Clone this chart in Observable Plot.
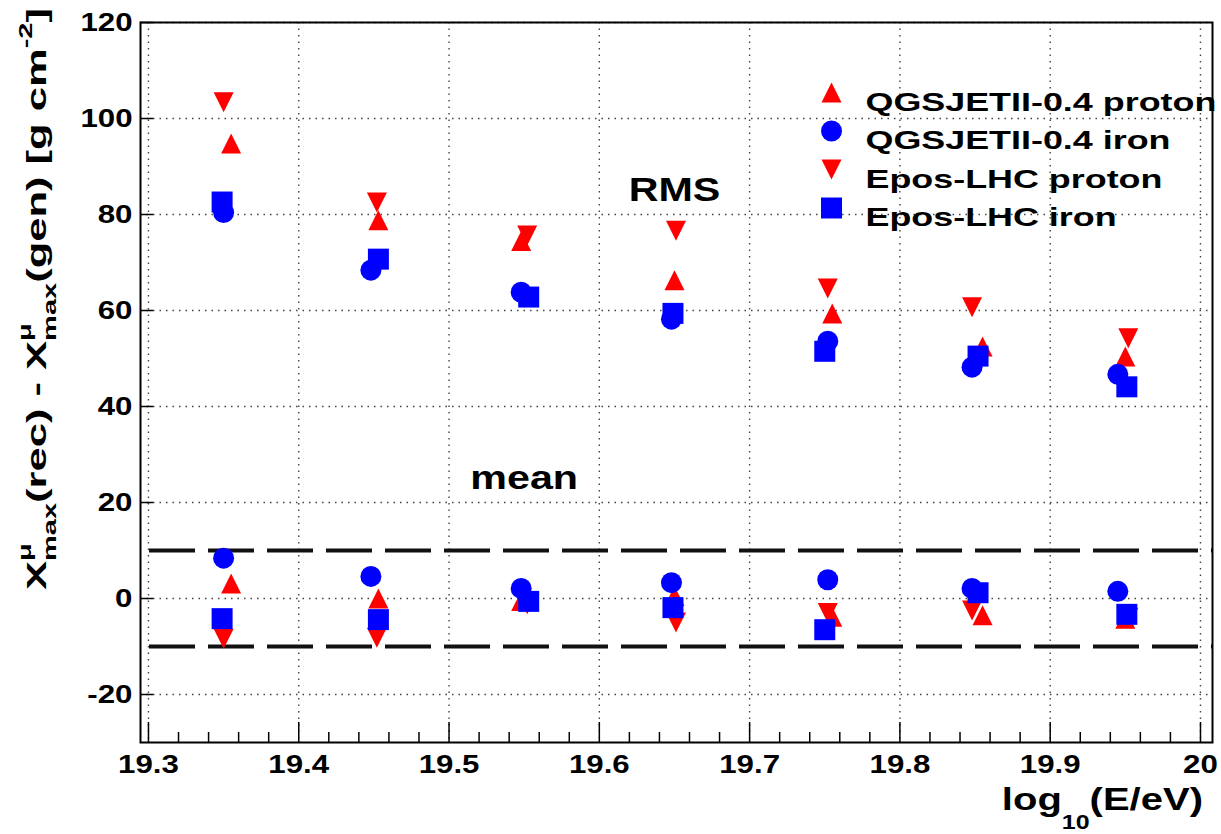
<!DOCTYPE html>
<html>
<head>
<meta charset="utf-8">
<script src="https://cdn.jsdelivr.net/npm/d3@7"></script>
<script src="https://cdn.jsdelivr.net/npm/@observablehq/plot@0.6"></script>
<style>
  html, body { margin: 0; padding: 0; background: #fff; }
  #chart svg { display: block; }
</style>
</head>
<body>
<div id="chart"></div>
<script>
// Energy bins (log10(E/eV)) per simulation set; each set is drawn slightly offset
const qgsProtonX  = [19.355, 19.453, 19.548, 19.650, 19.755, 19.855, 19.950];
const qgsIronX    = [19.350, 19.448, 19.548, 19.648, 19.752, 19.848, 19.945];
const eposProtonX = [19.350, 19.452, 19.552, 19.651, 19.752, 19.848, 19.952];
const eposIronX   = [19.349, 19.453, 19.553, 19.649, 19.750, 19.852, 19.951];

// RMS of Xmax^mu(rec) - Xmax^mu(gen) [g cm^-2]
const qgsProtonRms  = [94.8, 78.8, 74.5, 66.3, 59.4, 52.5, 50.4];
const qgsIronRms    = [80.4, 68.4, 63.8, 58.2, 53.6, 48.2, 46.7];
const eposProtonRms = [103.4, 82.5, 75.6, 76.6, 64.6, 60.7, 54.2];
const eposIronRms   = [82.6, 70.7, 62.8, 59.4, 51.5, 50.5, 44.1];

// Mean of Xmax^mu(rec) - Xmax^mu(gen) [g cm^-2]
const qgsProtonMean  = [3.1, 0.0, -0.5, 0.5, -3.8, -3.5, -4.2];
const qgsIronMean    = [8.4, 4.6, 2.1, 3.3, 3.9, 2.1, 1.5];
const eposProtonMean = [-8.4, -8.2, -1.2, -5.0, -3.0, -2.5, -4.0];
const eposIronMean   = [-4.2, -4.4, -0.6, -1.9, -6.5, 1.2, -3.3];

// Axis ticks and labels
const xMajorTicks = [19.3, 19.4, 19.5, 19.6, 19.7, 19.8, 19.9, 20];
const xTickLabels = ["19.3", "19.4", "19.5", "19.6", "19.7", "19.8", "19.9", "20"];
const yTicks = [-20, 0, 20, 40, 60, 80, 100, 120];
const yTickLabels = ["-20", "0", "20", "40", "60", "80", "100", "120"];
const meanBand = [-10, 10];

const annotations = [
  {label: "RMS", x: 19.65, y: 85},
  {label: "mean", x: 19.55, y: 25}
];

const FONT = "'Liberation Sans', Arial, Helvetica, sans-serif";
const RED = "#ff0000";
const BLUE = "#0000ff";
const TEXT_STRETCH = 1.25;
const LEGEND_STRETCH = 1.38;

// Marker shapes with the centre of the bounding box on the data point
const triangleUp = {
  draw(ctx, size) {
    const r = Math.sqrt(size / Math.PI);
    ctx.moveTo(0, -r);
    ctx.lineTo(r, r);
    ctx.lineTo(-r, r);
    ctx.closePath();
  }
};
const triangleDown = {
  draw(ctx, size) {
    const r = Math.sqrt(size / Math.PI);
    ctx.moveTo(0, r);
    ctx.lineTo(r, -r);
    ctx.lineTo(-r, -r);
    ctx.closePath();
  }
};
const squareBox = {
  draw(ctx, size) {
    const r = Math.sqrt(size / Math.PI);
    ctx.rect(-r, -r, 2 * r, 2 * r);
  }
};

const series = {
  qgsProton:  {label: "QGSJETII-0.4 proton", x: qgsProtonX,  rms: qgsProtonRms,  mean: qgsProtonMean,  symbol: triangleUp,   r: 10,   fill: RED},
  qgsIron:    {label: "QGSJETII-0.4 iron",   x: qgsIronX,    rms: qgsIronRms,    mean: qgsIronMean,    symbol: "circle",     r: 10.5, fill: BLUE},
  eposProton: {label: "Epos-LHC proton",     x: eposProtonX, rms: eposProtonRms, mean: eposProtonMean, symbol: triangleDown, r: 10,   fill: RED},
  eposIron:   {label: "Epos-LHC iron",       x: eposIronX,   rms: eposIronRms,   mean: eposIronMean,   symbol: squareBox,    r: 10.5, fill: BLUE}
};
const drawOrder = ["qgsProton", "eposProton", "eposIron", "qgsIron"];
const legendOrder = ["qgsProton", "qgsIron", "eposProton", "eposIron"];

function rows(s) {
  return s.x.flatMap((x, i) => [
    {x, y: s.rms[i], stat: "RMS"},
    {x, y: s.mean[i], stat: "mean"}
  ]);
}

const xMinorTicks = d3.range(0, 36)
  .map(i => Math.round((19.3 + i * 0.02) * 100) / 100)
  .filter(v => !xMajorTicks.some(t => Math.abs(t - v) < 1e-9));

const dataMarks = drawOrder.map(key => {
  const s = series[key];
  return Plot.dot(rows(s), {x: "x", y: "y", symbol: s.symbol, r: s.r, fill: s.fill, stroke: "none"});
});

const legendMarks = legendOrder.flatMap((key, i) => {
  const s = series[key];
  const dy = 70 + i * 38.5;
  return [
    Plot.dot([s.label], {frameAnchor: "top-right", dx: -381, dy, symbol: s.symbol, r: s.r, fill: s.fill, stroke: "none"}),
    Plot.text([s.label], {text: d => d, frameAnchor: "top-right", dx: -347, dy, textAnchor: "start",
      fontSize: 26, fontWeight: "bold", fill: "#000", className: "legend-label"})
  ];
});

const chart = Plot.plot({
  width: 1221,
  height: 834,
  marginLeft: 140,
  marginRight: 9,
  marginTop: 22,
  marginBottom: 92,
  style: {fontFamily: FONT, background: "#fff", color: "#000"},
  x: {domain: [19.2947, 20.008]},
  y: {domain: [-30, 120]},
  marks: [
    Plot.gridX({ticks: xMajorTicks, stroke: "#444", strokeOpacity: 1, strokeWidth: 1.4, strokeDasharray: "1.5,5"}),
    Plot.gridY({ticks: yTicks, stroke: "#444", strokeOpacity: 1, strokeWidth: 1.4, strokeDasharray: "1.5,5"}),
    Plot.ruleY(meanBand, {stroke: "#111", strokeWidth: 4, strokeDasharray: "46,13", strokeDashoffset: 50}),
    Plot.ruleX(xMajorTicks, {insetTop: 700, stroke: "#000", strokeWidth: 1.5}),
    Plot.ruleX(xMinorTicks, {insetTop: 710, stroke: "#000", strokeWidth: 1.5}),
    Plot.ruleY(yTicks, {insetRight: 1059, stroke: "#000", strokeWidth: 1.5}),
    ...dataMarks,
    Plot.text(annotations, {x: "x", y: "y", text: "label", fontSize: 33, fontWeight: "bold", fill: "#000"}),
    ...legendMarks,
    Plot.axisX({ticks: xMajorTicks, tickSize: 0, tickPadding: 13,
      tickFormat: d => xTickLabels[xMajorTicks.findIndex(t => Math.abs(t - d) < 1e-9)],
      fontSize: 25, fontWeight: "bold", label: null}),
    Plot.axisY({ticks: yTicks, tickSize: 0, tickPadding: 8,
      tickFormat: d => yTickLabels[yTicks.indexOf(d)],
      fontSize: 25, fontWeight: "bold", label: null}),
    Plot.frame({stroke: "#000", strokeWidth: 2})
  ]
});

document.getElementById("chart").appendChild(chart);

// Wide bold lettering: stretch every label along its writing direction
chart.querySelectorAll("text").forEach(t => {
  const isLegend = t.closest(".legend-label") !== null;
  const k = isLegend ? LEGEND_STRETCH : TEXT_STRETCH;
  const tr = t.getAttribute("transform") || "";
  t.setAttribute("transform", `${tr} scale(${k},1)`);
});

// Rich-text titles with sub/superscripts laid out run by run
function richText(svg, runs) {
  const g = svg.append("g")
    .attr("font-family", FONT)
    .attr("font-weight", "bold")
    .attr("text-anchor", "start")
    .attr("fill", "#000");
  let cursor = 0, lastStart = 0;
  for (const run of runs) {
    const start = run.overlay ? lastStart : cursor;
    const el = g.append("text")
      .attr("x", start)
      .attr("y", run.dy || 0)
      .attr("font-size", run.size)
      .text(run.text);
    const w = el.node().getComputedTextLength();
    cursor = run.overlay ? Math.max(cursor, start + w) : start + w;
    lastStart = start;
  }
  return {g, width: cursor};
}

const svg = d3.select(chart);

// x-axis title: log10(E/eV), right-aligned under the axis
const xTitle = richText(svg, [
  {text: "log", size: 32},
  {text: "10", size: 20, dy: 19},
  {text: "(E/eV)", size: 32}
]);
xTitle.g.attr("transform", `translate(${1203 - xTitle.width * TEXT_STRETCH},810) scale(${TEXT_STRETCH},1)`);

// y-axis title, rotated, spanning the upper part of the left margin
const yTitle = richText(svg, [
  {text: "X", size: 27},
  {text: "max", size: 18, dy: 10},
  {text: "\u03bc", size: 18, dy: -15, overlay: true},
  {text: "(rec) - X", size: 27},
  {text: "max", size: 18, dy: 10},
  {text: "\u03bc", size: 18, dy: -15, overlay: true},
  {text: "(gen) [g cm", size: 27},
  {text: "-2", size: 18, dy: -14},
  {text: "]", size: 27}
]);
const yTitleLength = 582;
yTitle.g.attr("transform", `translate(46,590) rotate(-90) scale(${yTitleLength / yTitle.width},1)`);
</script>
</body>
</html>
